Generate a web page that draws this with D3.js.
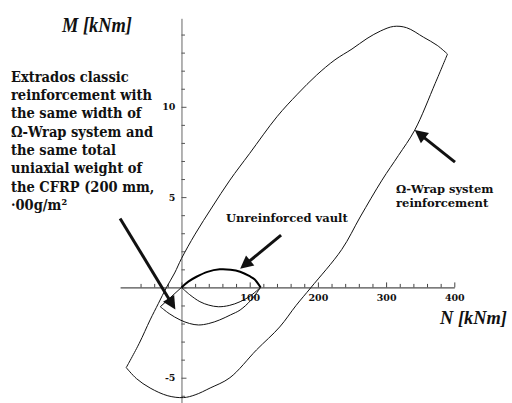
<!DOCTYPE html>
<html>
<head>
<meta charset="utf-8">
<script src="https://cdn.jsdelivr.net/npm/d3@7"></script>
<style>
  html, body { margin: 0; padding: 0; background: #fff; }
  svg { display: block; }
  .lbl { font-family: "DejaVu Serif", serif; font-weight: bold; fill: #111; }
  .cond { font-stretch: condensed; }
  .ttl { font-family: "Liberation Serif", serif; font-style: italic; font-weight: bold; fill: #111; }
  .tick text { font-family: "DejaVu Serif", serif; font-weight: bold; fill: #111; }
</style>
</head>
<body>
<svg id="chart" width="512" height="403"></svg>
<script>
// Interaction domains N–M for a masonry vault
const omegaWrap = [
  [-81, -4.44], [-62, -3.1], [-46, -1.8], [-34, -0.9], [-22, 0], [-10, 0.8], [0, 1.6],
  [20, 2.95], [45, 4.45], [71, 5.94], [100, 7.42], [140, 9.45], [170, 10.7],
  [198, 11.75], [225, 12.6], [250, 13.2], [272, 13.78], [292, 14.2], [311, 14.45],
  [330, 14.38], [355, 13.85], [375, 13.4], [390, 12.92],
  [372, 11.3], [342, 8.71], [318, 7.3], [294, 5.94], [262, 3.9], [235, 2.1], [190, 0],
  [168, -1.0], [144, -2.19], [110, -3.46], [71, -5.0], [42, -5.57], [20, -5.95],
  [3, -6.1], [-20, -6.0], [-46, -5.57], [-66, -5.05], [-81, -4.44]
];
const unreinforcedTop = [[0, 0], [10, 0.32], [22, 0.59], [38, 0.86], [56, 1.0], [72, 0.98], [86, 0.87], [100, 0.62], [107, 0.45], [116, 0]];
const unreinforcedBottom = [[0, 0], [12, -0.4], [27, -0.79], [40, -0.98], [54, -1.07], [70, -1.0], [86, -0.79], [100, -0.5], [116, 0]];
const extrados = [[0, 0], [-31, -1.07], [-18, -1.45], [-2, -1.8], [12, -2.0], [25, -2.08], [40, -2.0], [56, -1.8], [72, -1.52], [86, -1.25], [102, -0.7], [116, 0]];

// Axis ticks
const xTicks = d3.range(-60, 401, 20);
const xLabels = [100, 200, 300, 400];
const yTicks = d3.range(-6, 15, 1);
const yLabels = [-5, 5, 10];

// Annotation arrows, [tail, head] in data units
const arrows = [
  [[-90, 3.82], [-9, -1.22]],
  [[146, 2.9], [86, 1.03]],
  [[401, 6.94], [342, 8.71]]
];

const extradosText = [
  "Extrados classic",
  "reinforcement with",
  "the same width of",
  "\u03A9-Wrap system and",
  "the same total",
  "uniaxial weight of",
  "the CFRP (200 mm,",
  "\u00B700g/m\u00B2"
];
const omegaText = ["\u03A9-Wrap system", "reinforcement"];
const vaultText = "Unreinforced vault";

const svg = d3.select("#chart");
const x = d3.scaleLinear().domain([-90, 400]).range([120.1, 454.3]);
const y = d3.scaleLinear().domain([-6.4, 14.9]).range([403, 18.3]);

// x axis, ticks pointing up, labels below
const xAxis = svg.append("g")
  .attr("transform", `translate(0,${y(0)})`)
  .call(d3.axisBottom(x).tickValues(xTicks).tickSizeInner(-3.5).tickSizeOuter(0)
    .tickPadding(8)
    .tickFormat(d => xLabels.includes(d) ? d : ""));
xAxis.select(".domain").attr("stroke", "#222");
xAxis.selectAll(".tick line").attr("stroke", "#444")
  .attr("y2", d => d % 100 === 0 ? -5 : -3.5);
xAxis.selectAll(".tick text").attr("font-size", 9.5).attr("dy", "0.55em");

// y axis, ticks pointing right, labels on the left
const yAxis = svg.append("g")
  .attr("transform", `translate(${x(0)},0)`)
  .call(d3.axisLeft(y).tickValues(yTicks).tickSizeInner(-3.5).tickSizeOuter(0)
    .tickPadding(6)
    .tickFormat(d => yLabels.includes(d) ? d : ""));
yAxis.select(".domain").attr("stroke", "#666");
yAxis.selectAll(".tick line").attr("stroke", "#555")
  .attr("x2", d => d % 5 === 0 ? 5 : 3.5);
yAxis.selectAll(".tick text").attr("font-size", 9.5);

const line = d3.line().x(d => x(d[0])).y(d => y(d[1])).curve(d3.curveCatmullRom.alpha(0.5));
const lineLin = d3.line().x(d => x(d[0])).y(d => y(d[1]));

// Ω-Wrap domain: the two corners stay sharp
const cornerIdx = omegaWrap.findIndex(p => p[0] === 390);
svg.append("path").attr("d", line(omegaWrap.slice(0, cornerIdx + 1)))
  .attr("fill", "none").attr("stroke", "#111").attr("stroke-width", 1);
svg.append("path").attr("d", line(omegaWrap.slice(cornerIdx)))
  .attr("fill", "none").attr("stroke", "#111").attr("stroke-width", 1);

// Extrados domain: straight edge to the corner, then the lower curve
svg.append("path").attr("d", lineLin(extrados.slice(0, 2)))
  .attr("fill", "none").attr("stroke", "#111").attr("stroke-width", 1);
svg.append("path").attr("d", line(extrados.slice(1)))
  .attr("fill", "none").attr("stroke", "#111").attr("stroke-width", 1);

// Unreinforced vault
svg.append("path").attr("d", line(unreinforcedBottom))
  .attr("fill", "none").attr("stroke", "#111").attr("stroke-width", 1);
svg.append("path").attr("d", line(unreinforcedTop))
  .attr("fill", "none").attr("stroke", "#000").attr("stroke-width", 2);

// Arrows
const headLen = 13, headHalf = 6.5;
arrows.forEach(([t, h]) => {
  const x0 = x(t[0]), y0 = y(t[1]), x1 = x(h[0]), y1 = y(h[1]);
  const a = Math.atan2(y1 - y0, x1 - x0);
  const bx = x1 - headLen * Math.cos(a), by = y1 - headLen * Math.sin(a);
  svg.append("line").attr("x1", x0).attr("y1", y0).attr("x2", bx + Math.cos(a)).attr("y2", by + Math.sin(a))
    .attr("stroke", "#111").attr("stroke-width", 3);
  const px = -Math.sin(a), py = Math.cos(a);
  svg.append("path")
    .attr("d", `M${x1},${y1}L${bx + px * headHalf},${by + py * headHalf}L${bx - px * headHalf},${by - py * headHalf}Z`)
    .attr("fill", "#111");
});

// Text
svg.append("g").selectAll("text").data(extradosText).join("text")
  .attr("class", "lbl cond").attr("font-size", 14.5)
  .attr("x", 11).attr("y", (d, i) => 81.7 + i * 18.35).text(d => d);
svg.append("g").selectAll("text").data(omegaText).join("text")
  .attr("class", "lbl").attr("font-size", 11.5)
  .attr("x", 396).attr("y", (d, i) => 193 + i * 13.7).text(d => d);
svg.append("text").attr("class", "lbl").attr("font-size", 11.5)
  .attr("x", 226).attr("y", 221.7).text(vaultText);

svg.append("text").attr("class", "ttl").attr("font-size", 21)
  .attr("x", 62).attr("y", 32)
  .attr("textLength", 70).attr("lengthAdjust", "spacingAndGlyphs").text("M [kNm]");
svg.append("text").attr("class", "ttl").attr("font-size", 19.5)
  .attr("x", 440).attr("y", 324)
  .attr("textLength", 67).attr("lengthAdjust", "spacingAndGlyphs").text("N [kNm]");
</script>
</body>
</html>
